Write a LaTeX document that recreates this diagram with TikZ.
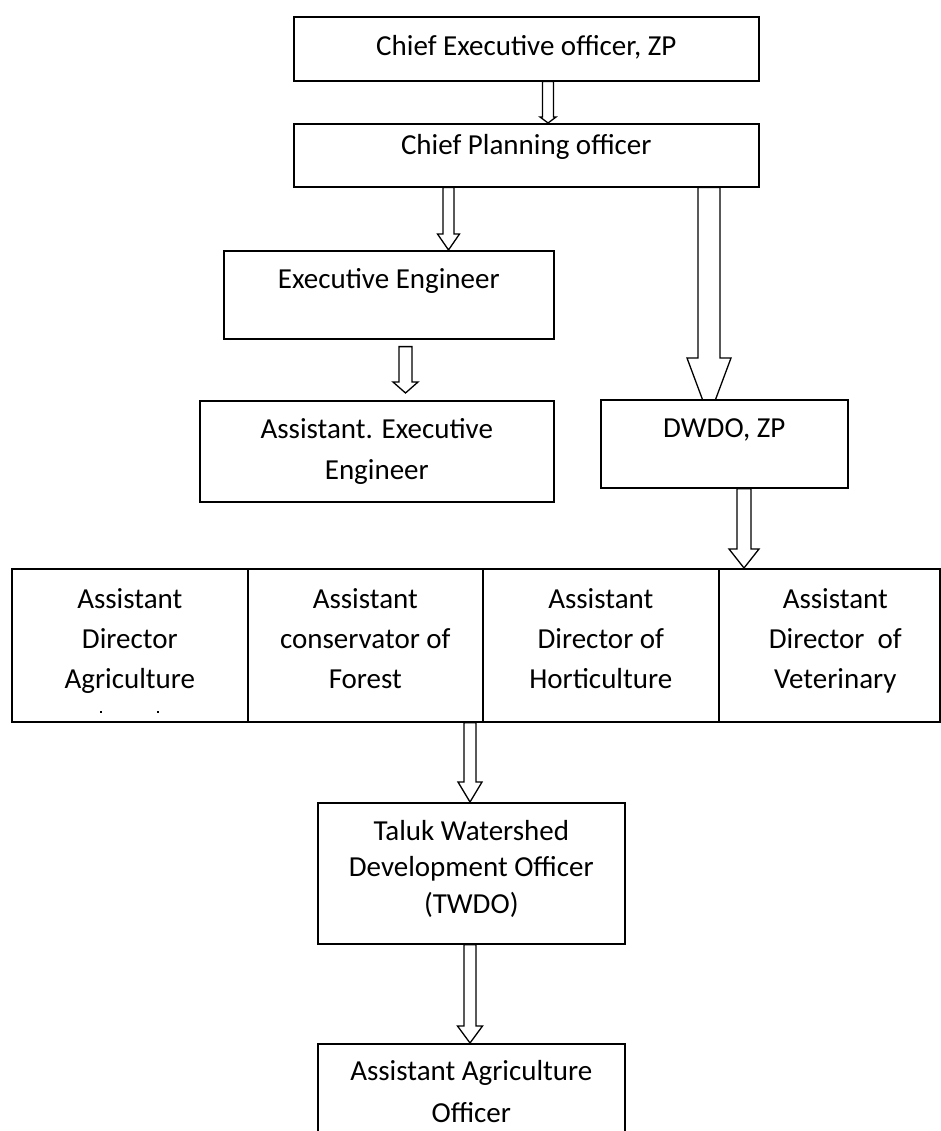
\documentclass[tikz,border=0pt]{standalone}
\usepackage{fontspec}
\setmainfont{Carlito}
\usetikzlibrary{calc,backgrounds}

\tikzset{
  x=1pt, y=-1pt,
  orgbox/.style={draw, line width=1.6pt, fill=white, inner sep=0pt, anchor=north west},
  boxtext/.style={align=center, inner sep=0pt, anchor=north, yshift=23pt,
    font=\fontsize{29}{#1}\selectfont},
  boxtext/.default=40,
  hollow/.style={draw, line width=1.3pt, fill=white, line join=miter},
}

% hollow block arrow from the bottom of #1 to the top of #2
% #3 x position, #4 start offset (down), #5 tip offset (down), #6 shaft half width,
% #7 head half width, #8 head length
\newcommand\hollowarrow[8]{%
  \path[hollow] let \p1=(#1.south), \p2=(#2.north) in
    ({#3pt-#6pt},{\y1-#4pt}) -- ({#3pt-#6pt},{\y2-#5pt+#8pt})
    -- ({#3pt-#7pt},{\y2-#5pt+#8pt}) -- ({#3pt},{\y2-#5pt})
    -- ({#3pt+#7pt},{\y2-#5pt+#8pt}) -- ({#3pt+#6pt},{\y2-#5pt+#8pt})
    -- ({#3pt+#6pt},{\y1-#4pt}) -- cycle;}

\begin{document}
\begin{tikzpicture}
\useasboundingbox (0,0) rectangle (941,1131);
\clip (0,0) rectangle (941,1131);

% boxes
\node[orgbox, minimum width=465pt, minimum height=64pt] (ceo) at (293,16) {};
\node[orgbox, minimum width=465pt, minimum height=63pt] (cp) at (293,123) {};
\node[orgbox, minimum width=330pt, minimum height=88pt] (ee) at (223,250) {};
\node[orgbox, minimum width=354pt, minimum height=101pt] (aee) at (199,400) {};
\node[orgbox, minimum width=247pt, minimum height=88pt] (dwdo) at (600,399) {};
\node[orgbox, minimum width=236pt, minimum height=153pt] (r1) at (11,568) {};
\node[orgbox, minimum width=235pt, minimum height=153pt] (r2) at (247,568) {};
\node[orgbox, minimum width=236pt, minimum height=153pt] (r3) at (482,568) {};
\node[orgbox, minimum width=221pt, minimum height=153pt] (r4) at (718,568) {};
\node[orgbox, minimum width=307pt, minimum height=141pt] (twdo) at (317,802) {};
\node[orgbox, minimum width=307pt, minimum height=120pt] (aao) at (317,1043) {};

% box texts
\node[boxtext] (ceo-t) at ([yshift=-39pt]ceo.north) {\rule{0pt}{23pt}Chief Executive officer, ZP};
\node[boxtext] (cp-t) at ([yshift=-31pt]cp.north) {\rule{0pt}{23pt}Chief Planning officer};
\node[boxtext] (ee-t) at ([yshift=-38pt]ee.north) {\rule{0pt}{23pt}Executive Engineer};
\node[boxtext=41] (aee-t) at ([yshift=-38pt]aee.north) {\rule{0pt}{23pt}Assistant. Executive\\Engineer};
\node[boxtext] (dwdo-t) at ([yshift=-38pt]dwdo.north) {\rule{0pt}{23pt}DWDO, ZP};
\node[boxtext] (r1-t) at ([yshift=-40pt]r1.north) {\rule{0pt}{23pt}Assistant\\Director\\Agriculture};
\node[boxtext] (r2-t) at ([yshift=-40pt]r2.north) {\rule{0pt}{23pt}Assistant\\conservator of\\Forest};
\node[boxtext] (r3-t) at ([yshift=-40pt]r3.north) {\rule{0pt}{23pt}Assistant\\Director of\\Horticulture};
\node[boxtext] (r4-t) at ([xshift=6pt,yshift=-40pt]r4.north) {\rule{0pt}{23pt}Assistant\\Director\ \ of\\Veterinary};
\node[boxtext=36.5] (twdo-t) at ([yshift=-38pt]twdo.north) {\rule{0pt}{23pt}Taluk Watershed\\Development Officer\\(TWDO)};
\node[boxtext=42] (aao-t) at ([yshift=-37pt]aao.north) {\rule{0pt}{23pt}Assistant Agriculture\\Officer};

% clipped remnants of a fourth line in the first row box
\fill (99.5,711) rectangle (101.5,713);
\fill (156.5,711) rectangle (158.5,713);

% connectors
\begin{pgfonlayer}{background}
\hollowarrow{ceo}{cp}{548}{0}{0}{5.5}{8}{6}
\hollowarrow{cp}{ee}{448.5}{0}{0}{5.5}{11}{16}
\hollowarrow{ee}{aee}{405.5}{7}{-7}{6.5}{12.5}{11}
\hollowarrow{cp}{dwdo}{709}{0}{18}{11}{22}{59}
\hollowarrow{dwdo}{r4}{744}{0}{0}{7}{15}{19}
\hollowarrow{r2}{twdo}{470}{0}{0}{6}{12}{20}
\hollowarrow{twdo}{aao}{470}{0}{0}{6}{12.5}{17}
\end{pgfonlayer}
\end{tikzpicture}
\end{document}
